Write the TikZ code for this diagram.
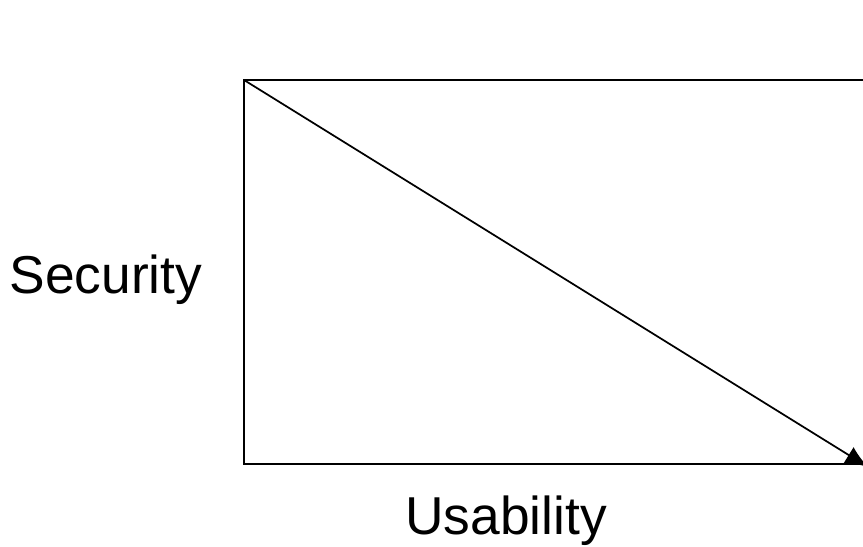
\documentclass[tikz,border=0pt]{standalone}
\usepackage{fontspec}
\setmainfont{Liberation Sans}
\usetikzlibrary{arrows.meta}
\tikzset{
  axisline/.style={line width=1.3pt, black},
  lbl/.style={font=\fontsize{40}{48}\selectfont, inner sep=0pt}
}
\begin{document}
\begin{tikzpicture}[x=0.75pt,y=-0.75pt]
\useasboundingbox (0,0) rectangle (863,546);
\clip (0,0) rectangle (863,546);
\coordinate (tl) at (244,80);
\coordinate (bl) at (244,464);
\coordinate (tr) at (880,80);
\coordinate (br) at (880,464);
\coordinate (tip) at (868,467);
\draw[axisline] (tr) -- (tl) -- (bl) -- (br);
\draw[axisline, -{Latex[length=17pt,width=14pt]}] (tl) -- (tip);
\node[lbl] (sec) at (106,280) {Security};
\node[lbl] (usa) at (506,521) {Usability};
\end{tikzpicture}
\end{document}
